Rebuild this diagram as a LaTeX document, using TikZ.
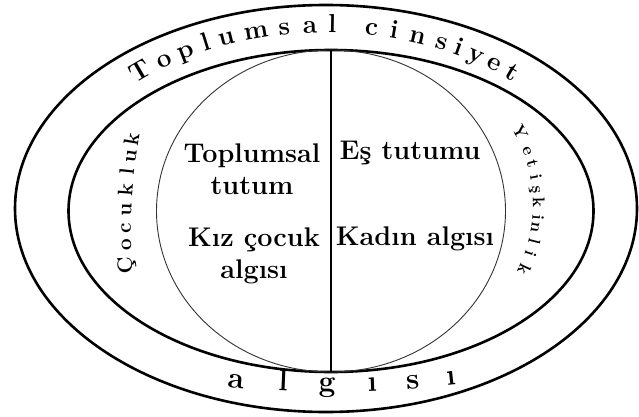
\documentclass[tikz,border=0pt]{standalone}
\usepackage{tikz}
\usetikzlibrary{shapes.geometric}
\tikzset{
  ring/.style={ellipse, draw=black, line width=2.6pt, inner sep=0pt, outer sep=0pt},
  thinring/.style={ellipse, draw=black!80, line width=0.9pt, inner sep=0pt, outer sep=0pt},
  divider/.style={draw=black, line width=1.1pt},
  centertext/.style={font=\fontsize{27}{32}\selectfont\bfseries, align=center, inner sep=0pt},
  arcletter/.style={font=\fontsize{26}{26}\selectfont\bfseries, inner sep=0pt, anchor=base},
  lowletter/.style={font=\fontsize{30}{30}\selectfont\bfseries, inner sep=0pt, anchor=base},
  leftletter/.style={font=\fontsize{21}{21}\selectfont\bfseries, inner sep=0pt, anchor=base},
  rightletter/.style={font=\fontsize{17}{17}\selectfont\bfseries, inner sep=0pt, anchor=base}
}

\begin{document}
\begin{tikzpicture}[x=1pt, y=1pt]
\useasboundingbox (0,0) rectangle (639,416);

% RINGS
\node[ring, minimum width=622pt, minimum height=407pt] (outer) at (326,207.5) {};
\node[ring, minimum width=525pt, minimum height=322pt] (middle) at (331,205) {};
\node[thinring, minimum width=349pt, minimum height=322pt] (inner) at (331,205) {};
\draw[divider] (middle.north) -- (middle.south);

% Inner halves
\node[centertext] (tutum) at (252,246.5) {Toplumsal\\tutum};
\node[centertext] (kizcocuk) at (254,160) {Kız çocuk\\algısı};
\node[centertext, anchor=base] (estutumu) at (410,257) {Eş tutumu};
\node[centertext, anchor=base] (kadin) at (415,171) {Kadın algısı};

% Top band
\foreach \ch/\a [count=\i] in {T/131.4, o/125.4, p/120.1, l/115.4, u/110.9, m/104.5, s/98.6, a/93.3, l/88.7,
                               c/80.6, i/75.9, n/70.9, s/65.4, i/61.6, y/57.5, e/53.0, t/48.4}
  \node[arcletter, rotate={atan2(-182*cos(\a),275*sin(\a))}] (top\i) at ({326+275*cos(\a)},{201+182*sin(\a)}) {\ch};

% Bottom band
\foreach \ch/\a [count=\i] in {a/258.0, l/264.0, g/269.5, ı/275.2, s/280.3, ı/285.25}
  \node[lowletter, rotate={atan2(186*cos(\a),-460*sin(\a))}] (bottom\i) at ({331+460*cos(\a)},{210+186*sin(\a)}) {\ch};

% Left band
\foreach \ch/\a [count=\i] in {Ç/186.1, o/182.6, c/179.65, u/176.5, k/173.0, l/170.0, u/167.2, k/164.2}
  \node[leftletter, rotate={atan2(-330*cos(\a),200*sin(\a))}] (left\i) at ({331+200*cos(\a)},{186+330*sin(\a)}) {\ch};

% Right band
\foreach \ch/\a [count=\i] in {Y/24.3, e/17.8, t/13.6, i/9.1, ş/5.1, k/0.7, i/-4.0, n/-7.4, l/-11.9, i/-16.0, k/-21.4}
  \node[rightletter, rotate={atan2(-170*cos(\a),202*sin(\a))}] (right\i) at ({331+202*cos(\a)},{211+170*sin(\a)}) {\ch};
\end{tikzpicture}
\end{document}
